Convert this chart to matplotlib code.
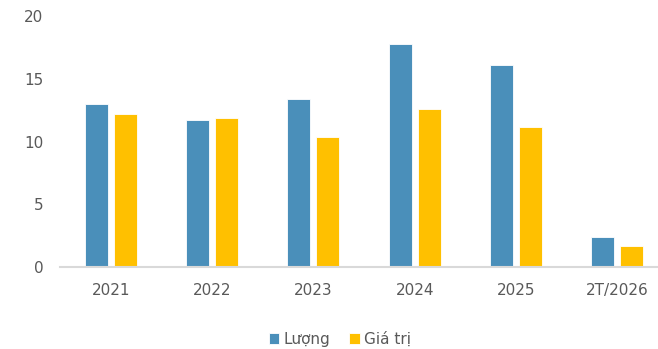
import matplotlib.pyplot as plt
import numpy as np

plt.rcParams['font.family'] = ['DejaVu Sans']

nam = ['2021', '2022', '2023', '2024', '2025', '2T/2026']
luong = [13.0, 11.7, 13.4, 17.8, 16.1, 2.4]
gia_tri = [12.2, 11.9, 10.4, 12.6, 11.2, 1.7]

c_xanh = '#4A8FBA'
c_vang = '#FFC000'
c_chu = '#595959'

fig = plt.figure(figsize=(6.58, 3.49), dpi=100)
ax = fig.add_axes([60 / 658, 81.7 / 349, 608 / 658, 251.3 / 349])

x = np.arange(len(nam))
w = 0.225
d = 0.143
ax.bar(x - d, luong, w, color=c_xanh, edgecolor='white', linewidth=0.6, label='Lượng')
ax.bar(x + d, gia_tri, w, color=c_vang, edgecolor='white', linewidth=0.6, label='Giá trị')

ax.set_xlim(-0.5, len(nam) - 0.5)
ax.set_ylim(0, 20)
ax.set_yticks([0, 5, 10, 15, 20])
ax.set_xticks(x)
ax.set_xticklabels(nam)

for s in ['top', 'right', 'left']:
    ax.spines[s].set_visible(False)
ax.spines['bottom'].set_color('#D9D9D9')
ax.spines['bottom'].set_linewidth(1.5)

ax.tick_params(axis='y', length=0, pad=12, labelsize=11, labelcolor=c_chu)
ax.tick_params(axis='x', length=0, pad=11, labelsize=11, labelcolor=c_chu)

fig.legend(loc='center', bbox_to_anchor=(340 / 658, 1 - 339 / 349), ncol=2,
           frameon=False, fontsize=11, labelcolor=c_chu,
           handlelength=0.7, handleheight=0.7, handletextpad=0.3,
           columnspacing=1.2)

fig.savefig('out.png', dpi=100)
